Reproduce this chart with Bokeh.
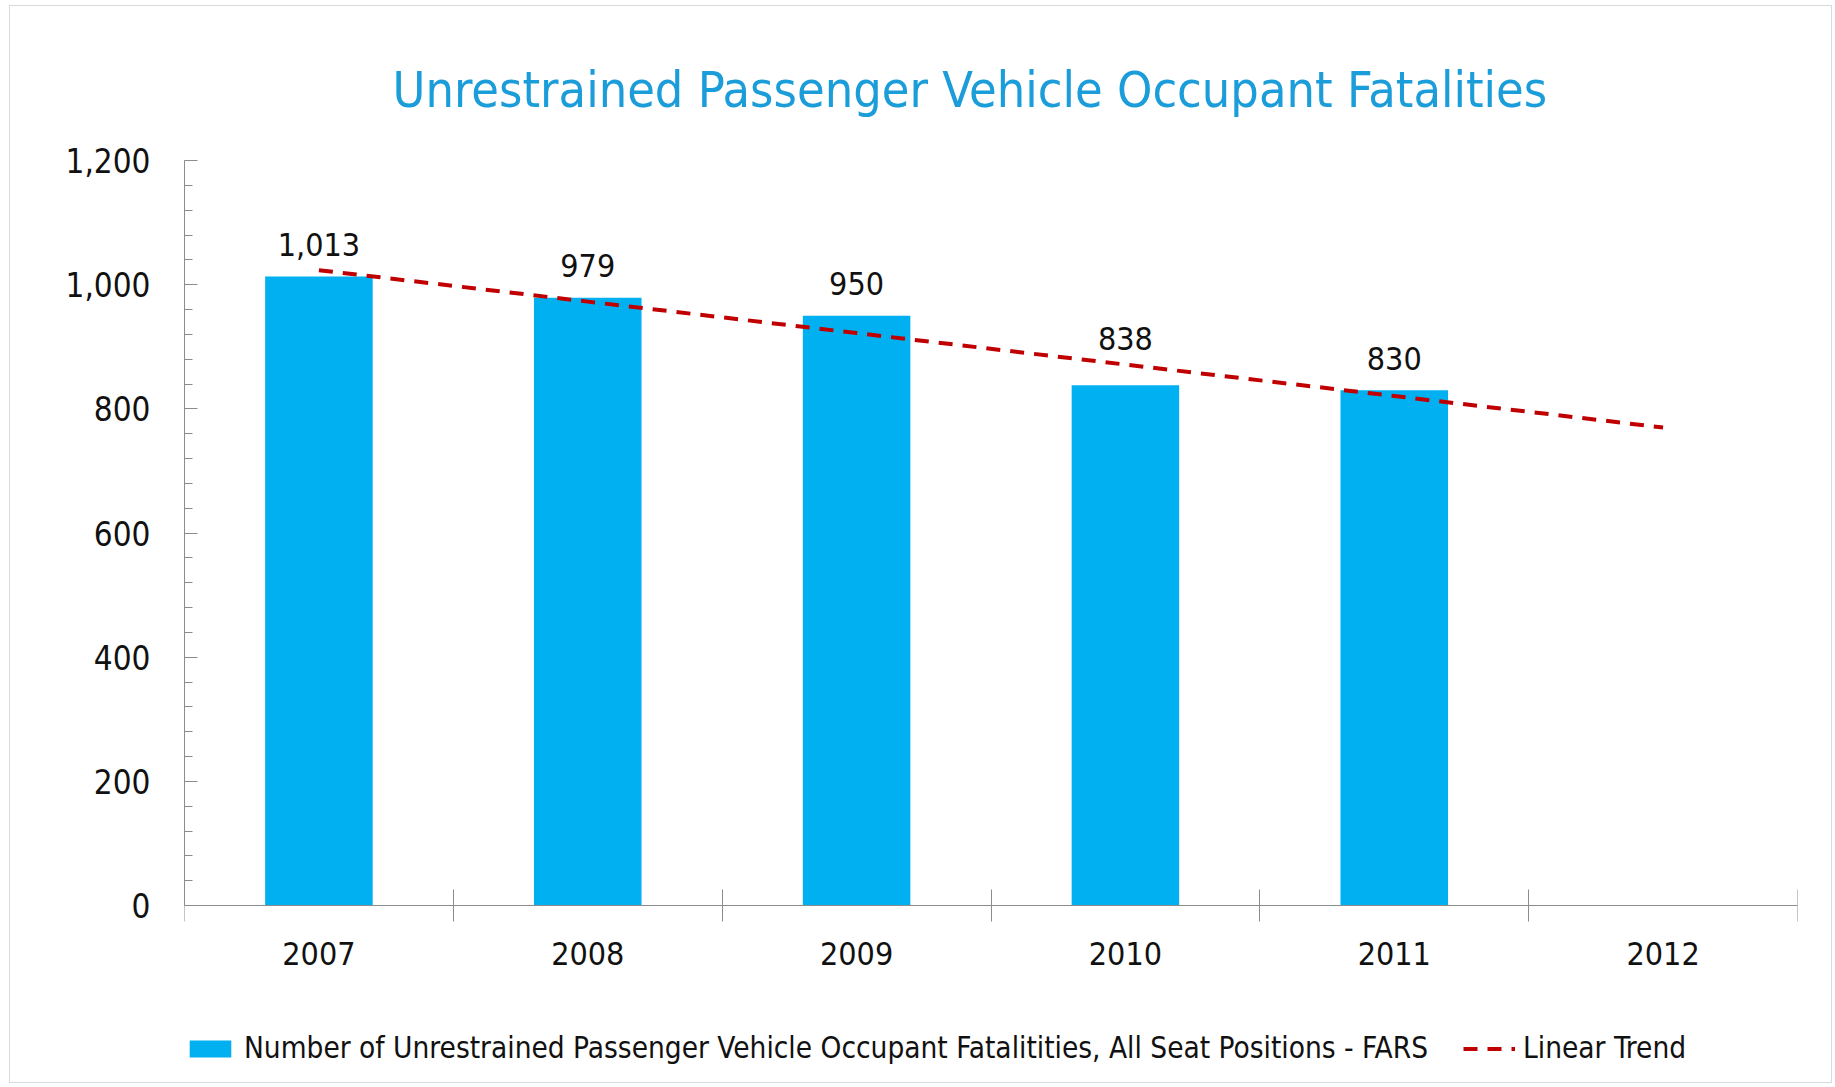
import numpy as np
from bokeh.plotting import figure
from bokeh.models import FixedTicker, SingleIntervalTicker, Legend, LegendItem, NumeralTickFormatter
from bokeh.embed import file_html
from bokeh.resources import INLINE
from bokeh.core.properties import value

# ---- data ----
years = ["2007", "2008", "2009", "2010", "2011", "2012"]
fatalities = [1013, 979, 950, 838, 830]          # 2007..2011
y_min, y_max, y_step = 0, 1200, 200
title_text = "Unrestrained Passenger Vehicle Occupant Fatalities"
bar_legend = "Number of Unrestrained Passenger Vehicle Occupant Fatalitities, All Seat Positions - FARS"
trend_legend = "Linear Trend"

FONT = "DejaVu Sans Condensed, DejaVu Sans"
BAR_COLOR = "#00b0f0"
TREND_COLOR = "#c00000"
TITLE_COLOR = "#1b9dd9"
AXIS_COLOR = "#8c8c8c"

# layout (pixels)
AXIS_PX = 745            # pixel height of the 0..1200 value axis
FRAME_H = 910            # frame extends below the axis to host the legend
view_start = y_max - FRAME_H * (y_max - y_min) / AXIS_PX
label_dy = [-32, -32, -32, -47, -32]

n = len(years)
centers = [i + 0.5 for i in range(n)]
bar_x = centers[:len(fatalities)]
bar_labels = [f"{v:,}" for v in fatalities]
slope, intercept = np.polyfit(list(range(len(fatalities))), fatalities, 1)
trend_y = [intercept + slope * i for i in range(n)]

p = figure(frame_width=1613, frame_height=FRAME_H, x_range=(0, n), y_range=(view_start, y_max),
           output_backend="svg", toolbar_location=None,
           min_border_left=174, min_border_right=34, min_border_top=154, min_border_bottom=12)
p.styles = {"border": "1px solid #d9d9d9", "margin-left": "9px", "margin-top": "5px"}

p.title.text = title_text
p.title.align = "left"
p.title.offset = 208
p.title.text_font = FONT
p.title.text_font_size = "50px"
p.title.text_font_style = "normal"
p.title.text_color = TITLE_COLOR
p.title.standoff = 84

bars = p.vbar(x=bar_x, top=fatalities, width=0.4, fill_color=BAR_COLOR, line_color=None)
trend = p.line(x=centers, y=trend_y, line_color=TREND_COLOR, line_width=4, line_dash="14 10")
p.text(x=bar_x, y=fatalities, text=bar_labels, text_align="center", text_baseline="alphabetic",
       y_offset=label_dy, text_font=value(FONT), text_font_size="32px", text_color="#111111")

p.xgrid.visible = False
p.ygrid.visible = False
p.outline_line_color = None

xa = p.xaxis[0]
xa.fixed_location = y_min
xa.ticker = FixedTicker(ticks=centers, minor_ticks=list(range(n + 1)))
xa.major_label_overrides = {c: y for c, y in zip(centers, years)}
xa.axis_line_color = AXIS_COLOR
xa.major_tick_in = 0
xa.major_tick_out = 0
xa.minor_tick_in = 16
xa.minor_tick_out = 16
xa.minor_tick_line_color = AXIS_COLOR
xa.major_label_standoff = 20
xa.major_label_text_font = FONT
xa.major_label_text_font_size = "32px"
xa.major_label_text_color = "#111111"

ya = p.yaxis[0]
ya.bounds = (y_min, y_max)
ya.ticker = SingleIntervalTicker(interval=y_step, num_minor_ticks=5)
ya.formatter = NumeralTickFormatter(format="0,0")
ya.axis_line_color = AXIS_COLOR
ya.major_tick_line_color = AXIS_COLOR
ya.minor_tick_line_color = AXIS_COLOR
ya.major_tick_in = 13
ya.major_tick_out = 0
ya.minor_tick_in = 8
ya.minor_tick_out = 0
ya.major_label_standoff = 34
ya.major_label_text_font = FONT
ya.major_label_text_font_size = "33px"
ya.major_label_text_color = "#111111"

legend = Legend(items=[LegendItem(label=bar_legend, renderers=[bars]),
                       LegendItem(label=trend_legend, renderers=[trend])],
                orientation="horizontal", location=(0, 5),
                label_text_font=FONT, label_text_font_size="29.5px", label_text_color="#111111",
                glyph_width=52, glyph_height=21, label_standoff=8, spacing=35,
                padding=0, margin=0, border_line_color=None, background_fill_alpha=0)
p.add_layout(legend, "center")

open("out.html", "w").write(file_html(p, INLINE))
